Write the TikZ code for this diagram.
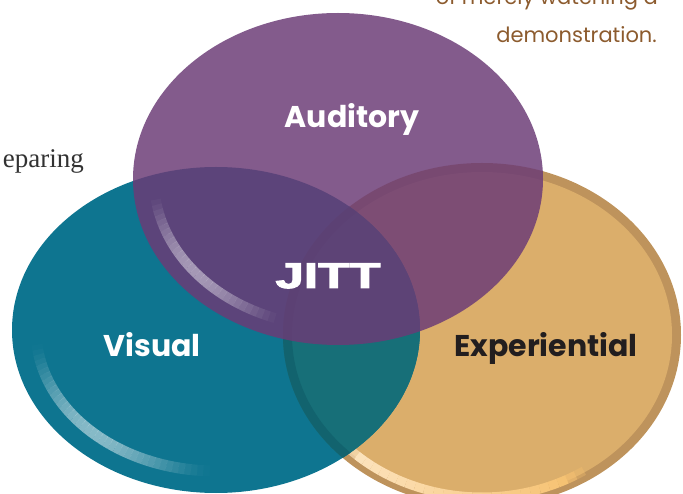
\documentclass[tikz,border=0pt]{standalone}
\usepackage{fontspec}
\setmainfont{Liberation Serif}
\newfontfamily\labelfont{Poppins}
\newfontfamily\jittfont[FakeBold=2.5]{Liberation Sans}

\definecolor{tanrim}{RGB}{190,147,92}
\definecolor{tanfill}{RGB}{219,174,107}
\definecolor{tealfill}{RGB}{14,117,144}
\definecolor{tealtan}{RGB}{23,111,120}
\definecolor{tealtanrim}{RGB}{18,99,110}
\definecolor{lilafill}{RGB}{107,59,118}
\definecolor{textbraun}{RGB}{140,91,46}
\definecolor{textgrau}{RGB}{50,50,50}
\definecolor{textschwarz}{RGB}{34,30,31}
\definecolor{lichthell}{RGB}{253,230,195}
\definecolor{lichtorange}{RGB}{246,192,110}

\tikzset{
	kreistext/.style={inner sep=0pt, anchor=base, font=\labelfont\bfseries\fontsize{30}{36}\selectfont},
	randtext/.style={inner sep=0pt, anchor=base east, text=textbraun, font=\labelfont\fontsize{21}{25}\selectfont},
	lila/.style={fill=lilafill, opacity=0.84},
}

\begin{document}
\begin{tikzpicture}[x=1pt, y=1pt]
	\useasboundingbox (0,0) rectangle (683,493);

	% Text am Rand
	\node[inner sep=0pt, anchor=base east, text=textgrau, font=\fontsize{27}{32}\selectfont] (preparing) at (84,325) {eparing};
	\node[randtext] (merely) at (658,488) {of merely watching a};
	\node[randtext] (demo) at (657,450) {demonstration.};

	% Experiential (unten rechts)
	\fill[tanrim] (482,158) ellipse [x radius=199, y radius=172];
	\fill[tanfill] (482,158) ellipse [x radius=190, y radius=163];
	% Lichtkante unten
	\foreach \t in {222,225,...,300}{
		\pgfmathsetmacro{\mix}{int(100-(\t-222)*100/78)}
		\pgfmathsetmacro{\op}{min(1,3*sin(180*(\t-219)/84))}
		\draw[line width=9, draw=lichthell!\mix!lichtorange, opacity=\op] (482,158) ++(\t:187 and 162)
			arc[start angle=\t, end angle=\t+3, x radius=187, y radius=162];
	}

	% Visual (unten links)
	\fill[tealfill] (216,163) ellipse [x radius=204, y radius=163];
	% Ueberlappung Visual / Experiential
	\begin{scope}
		\clip (482,158) ellipse [x radius=199, y radius=172];
		\fill[tealtan] (216,163) ellipse [x radius=204, y radius=163];
		\clip (216,163) ellipse [x radius=204, y radius=163];
		\fill[tealtanrim, even odd rule] (482,158) ellipse [x radius=199, y radius=172]
			(482,158) ellipse [x radius=190, y radius=163];
	\end{scope}
	% Lichtkante links
	\foreach \t in {186,188,...,266}{
		\pgfmathsetmacro{\op}{0.5*sin(180*(\t-184)/84)^1.5}
		\draw[line width=11, white, opacity=\op] (216,163) ++(\t:180 and 141)
			arc[start angle=\t, end angle=\t+2, x radius=180, y radius=141];
	}

	% Auditory (oben)
	\fill[lila] (338,314) ellipse [x radius=205, y radius=166];
	% Lichtkante Auditory
	\foreach \t in {188,190,...,248}{
		\pgfmathsetmacro{\op}{0.45*sin(180*(\t-186)/64)^1.2}
		\draw[line width=10, white, opacity=\op] (338,314) ++(\t:184 and 148)
			arc[start angle=\t, end angle=\t+2, x radius=184, y radius=148];
	}

	% Beschriftung
	\node[kreistext, text=white] (auditory) at (352,365) {Auditory};
	\node[kreistext, text=white] (visual) at (152,136) {Visual};
	\node[kreistext, text=textschwarz] (experiential) at (546,136) {Experiential};
	\node[inner sep=0pt, anchor=base, text=white, font=\jittfont\bfseries\fontsize{36}{40}\selectfont,
		xscale=1.42, transform shape] (jitt) at (328,205) {JITT};
\end{tikzpicture}
\end{document}
